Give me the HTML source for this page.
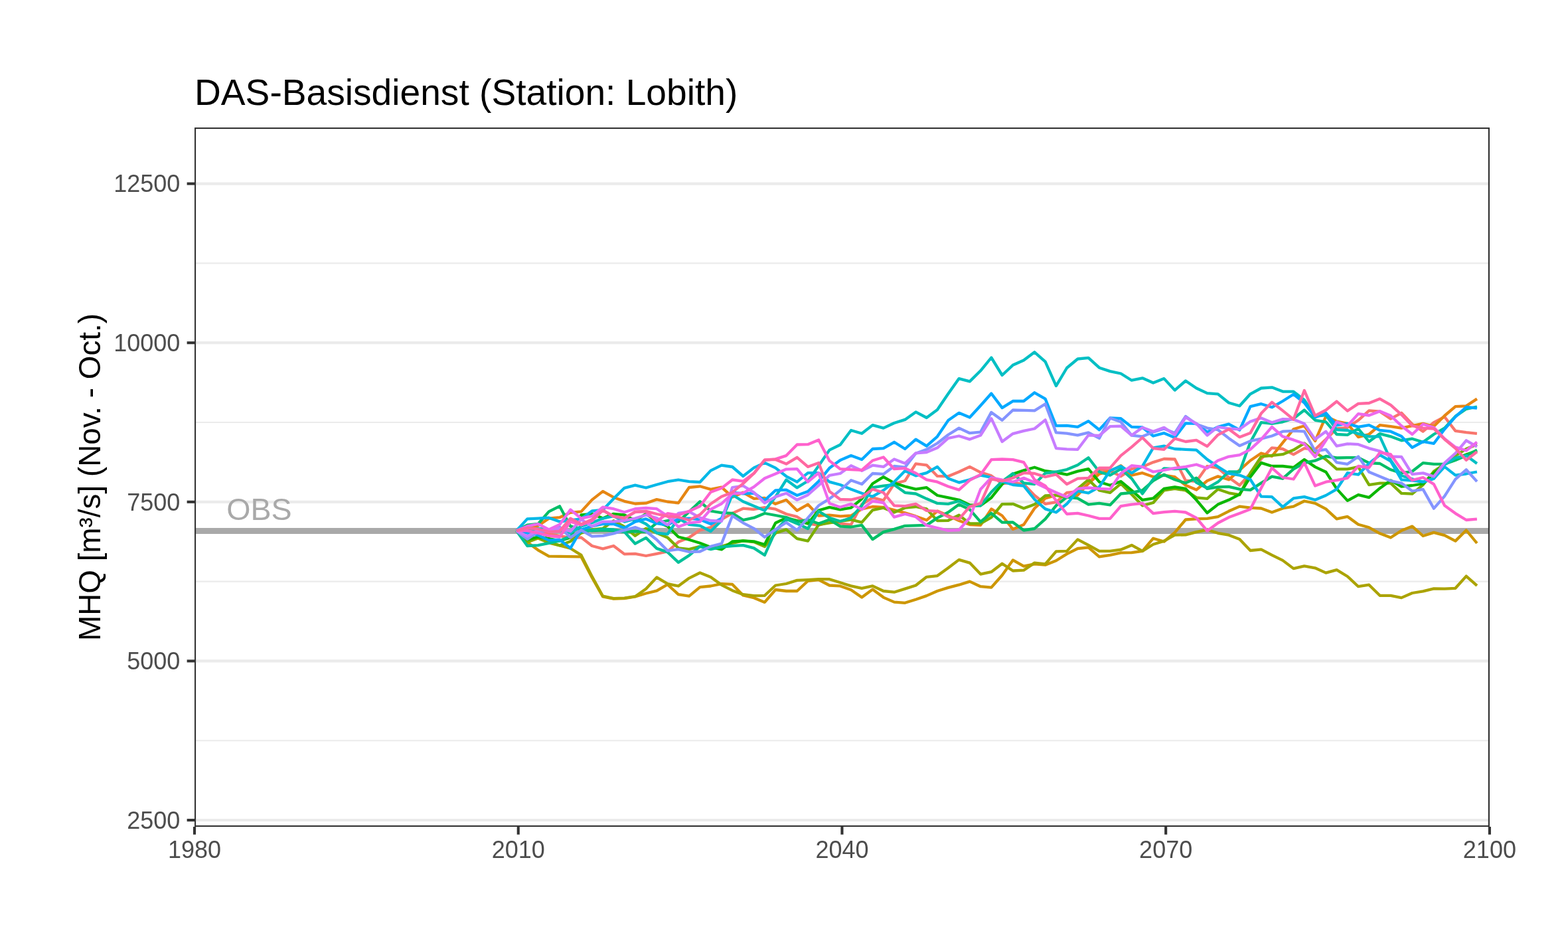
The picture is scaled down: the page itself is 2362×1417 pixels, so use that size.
<!DOCTYPE html>
<html lang="de"><head><meta charset="utf-8"><title>DAS-Basisdienst (Station: Lobith)</title>
<style>html,body{margin:0;padding:0;background:#fff}body{width:2362px;height:1417px;overflow:hidden}svg{display:block}text{font-family:"Liberation Sans",Arial,Helvetica,sans-serif}</style></head><body>
<svg width="2362" height="1417" viewBox="0 0 2362 1417">
<rect width="2362" height="1417" fill="#fff"/>
<defs><clipPath id="pc"><rect x="293.00" y="192.00" width="1950.90" height="1053.00"/></clipPath></defs>
<g clip-path="url(#pc)">
<g stroke="#EBEBEB" stroke-width="2.1" fill="none">
<line x1="293.0" x2="2243.9" y1="1115.20" y2="1115.20"/>
<line x1="293.0" x2="2243.9" y1="875.60" y2="875.60"/>
<line x1="293.0" x2="2243.9" y1="636.00" y2="636.00"/>
<line x1="293.0" x2="2243.9" y1="396.40" y2="396.40"/>
</g>
<g stroke="#EBEBEB" stroke-width="4.2" fill="none">
<line x1="293.0" x2="2243.9" y1="1235.00" y2="1235.00"/>
<line x1="293.0" x2="2243.9" y1="995.40" y2="995.40"/>
<line x1="293.0" x2="2243.9" y1="755.80" y2="755.80"/>
<line x1="293.0" x2="2243.9" y1="516.20" y2="516.20"/>
<line x1="293.0" x2="2243.9" y1="276.60" y2="276.60"/>
</g>
<line x1="293.0" x2="2243.9" y1="799.5" y2="799.5" stroke="#A9A9A9" stroke-width="8.8"/>
<g fill="none" stroke-width="4.30" stroke-linejoin="round" stroke-linecap="butt">
<polyline stroke="#F8766D" points="778.0,799.2 794.3,800.9 810.5,802.6 826.8,804.3 843.0,806.8 859.3,810.2 875.5,809.4 891.8,822.0 908.1,826.3 924.3,822.0 940.6,834.4 956.8,833.9 973.1,837.0 989.3,833.9 1005.6,830.5 1021.9,816.1 1038.1,809.4 1054.4,798.3 1070.6,794.1 1086.9,782.2 1103.2,772.9 1119.4,765.7 1135.7,767.0 1151.9,764.2 1168.2,766.7 1184.4,774.0 1200.7,778.2 1217.0,788.4 1233.2,790.9 1249.5,785.8 1265.7,788.4 1282.0,790.1 1298.2,759.6 1314.5,749.4 1330.8,753.7 1347.0,728.3 1363.3,724.0 1379.5,698.3 1395.8,700.3 1412.0,716.9 1428.3,717.3 1444.6,710.5 1460.8,702.9 1477.1,711.3 1493.3,716.4 1509.6,728.3 1525.8,726.6 1542.1,729.1 1558.4,746.0 1574.6,758.8 1590.9,756.2 1607.1,741.8 1623.4,740.1 1639.6,728.3 1655.9,707.1 1672.2,708.8 1688.4,717.3 1704.7,706.2 1720.9,702.9 1737.2,696.1 1753.5,691.0 1769.7,691.5 1786.0,723.7 1802.2,724.9 1818.5,702.0 1834.7,704.6 1851.0,719.0 1867.3,730.8 1883.5,713.0 1899.8,691.0 1916.0,674.3 1932.3,676.0 1948.5,684.4 1964.8,675.1 1981.1,676.8 1997.3,661.6 2013.6,645.5 2029.8,643.8 2046.1,632.8 2062.3,618.4 2078.6,619.7 2094.9,630.6 2111.1,621.8 2127.4,638.7 2143.6,649.7 2159.9,636.2 2176.1,627.7 2192.4,648.9 2208.7,651.1 2224.9,652.8"/>
<polyline stroke="#E68613" points="778.0,799.2 794.3,795.0 810.5,791.6 826.8,780.6 843.0,779.2 859.3,771.8 875.5,770.4 891.8,752.6 908.1,739.9 924.3,748.9 940.6,754.8 956.8,758.5 973.1,757.7 989.3,752.1 1005.6,755.5 1021.9,757.4 1038.1,734.0 1054.4,732.3 1070.6,736.9 1086.9,733.6 1103.2,748.4 1119.4,741.6 1135.7,750.9 1151.9,749.8 1168.2,758.8 1184.4,752.8 1200.7,768.9 1217.0,759.6 1233.2,776.5 1249.5,775.7 1265.7,777.4 1282.0,776.5 1298.2,766.4 1314.5,763.0 1330.8,763.8 1347.0,768.1 1363.3,772.3 1379.5,777.4 1395.8,783.3 1412.0,769.6 1428.3,776.4 1444.6,784.1 1460.8,790.1 1477.1,790.9 1493.3,766.4 1509.6,776.5 1525.8,796.9 1542.1,790.1 1558.4,765.5 1574.6,750.5 1590.9,745.8 1607.1,749.0 1623.4,745.6 1639.6,728.1 1655.9,713.7 1672.2,709.6 1688.4,701.2 1704.7,715.6 1720.9,712.2 1737.2,718.1 1753.5,715.6 1769.7,718.1 1786.0,730.8 1802.2,737.6 1818.5,724.0 1834.7,717.3 1851.0,722.3 1867.3,707.9 1883.5,693.5 1899.8,682.5 1916.0,687.0 1932.3,666.6 1948.5,646.3 1964.8,641.2 1981.1,664.1 1997.3,626.9 2013.6,634.5 2029.8,637.9 2046.1,658.2 2062.3,654.0 2078.6,640.1 2094.9,642.1 2111.1,644.6 2127.4,641.2 2143.6,637.9 2159.9,642.1 2176.1,626.0 2192.4,612.1 2208.7,611.3 2224.9,600.6"/>
<polyline stroke="#CD9600" points="778.0,799.5 794.3,816.4 810.5,828.3 826.8,837.6 843.0,837.9 859.3,838.1 875.5,838.4 891.8,869.8 908.1,898.5 924.3,901.6 940.6,901.1 956.8,898.5 973.1,893.5 989.3,889.7 1005.6,880.2 1021.9,895.2 1038.1,897.7 1054.4,884.1 1070.6,882.5 1086.9,879.1 1103.2,879.9 1119.4,896.5 1135.7,900.2 1151.9,906.9 1168.2,888.0 1184.4,890.0 1200.7,890.0 1217.0,874.8 1233.2,873.1 1249.5,881.5 1265.7,882.4 1282.0,888.3 1298.2,899.6 1314.5,887.5 1330.8,899.6 1347.0,906.6 1363.3,907.8 1379.5,902.7 1395.8,897.1 1412.0,890.0 1428.3,884.9 1444.6,880.7 1460.8,875.6 1477.1,883.2 1493.3,884.6 1509.6,866.3 1525.8,843.4 1542.1,852.7 1558.4,849.4 1574.6,850.7 1590.9,844.3 1607.1,834.1 1623.4,826.0 1639.6,824.3 1655.9,838.3 1672.2,835.8 1688.4,832.4 1704.7,832.1 1720.9,829.9 1737.2,810.7 1753.5,815.5 1769.7,801.9 1786.0,782.5 1802.2,781.3 1818.5,780.8 1834.7,778.2 1851.0,769.8 1867.3,762.6 1883.5,764.7 1899.8,765.5 1916.0,771.5 1932.3,765.5 1948.5,762.6 1964.8,754.5 1981.1,757.9 1997.3,766.4 2013.6,781.3 2029.8,777.9 2046.1,789.7 2062.3,794.3 2078.6,803.3 2094.9,809.5 2111.1,799.0 2127.4,792.6 2143.6,807.0 2159.9,801.9 2176.1,806.2 2192.4,814.6 2208.7,798.5 2224.9,818.0"/>
<polyline stroke="#ABA300" points="778.0,799.5 794.3,816.4 810.5,810.5 826.8,817.3 843.0,821.5 859.3,825.7 875.5,835.9 891.8,868.1 908.1,897.7 924.3,901.1 940.6,900.6 956.8,898.2 973.1,886.7 989.3,869.4 1005.6,879.1 1021.9,882.5 1038.1,870.6 1054.4,862.5 1070.6,868.9 1086.9,880.8 1103.2,889.2 1119.4,895.2 1135.7,897.2 1151.9,896.8 1168.2,881.5 1184.4,879.0 1200.7,873.9 1217.0,873.1 1233.2,872.2 1249.5,872.2 1265.7,877.3 1282.0,882.4 1298.2,885.8 1314.5,882.4 1330.8,890.0 1347.0,891.7 1363.3,886.6 1379.5,881.5 1395.8,868.8 1412.0,867.1 1428.3,855.3 1444.6,842.9 1460.8,847.6 1477.1,864.6 1493.3,861.2 1509.6,848.8 1525.8,859.5 1542.1,858.7 1558.4,847.6 1574.6,849.4 1590.9,830.4 1607.1,829.9 1623.4,812.4 1639.6,820.9 1655.9,829.9 1672.2,829.9 1688.4,827.7 1704.7,820.9 1720.9,829.9 1737.2,819.7 1753.5,814.6 1769.7,805.7 1786.0,805.3 1802.2,801.1 1818.5,797.7 1834.7,802.8 1851.0,805.7 1867.3,812.1 1883.5,829.0 1899.8,827.3 1916.0,835.8 1932.3,843.9 1948.5,856.1 1964.8,852.4 1981.1,855.3 1997.3,862.6 2013.6,858.1 2029.8,868.0 2046.1,883.2 2062.3,880.7 2078.6,896.8 2094.9,896.8 2111.1,900.1 2127.4,893.0 2143.6,890.3 2159.9,886.3 2176.1,886.6 2192.4,885.8 2208.7,867.6 2224.9,881.9"/>
<polyline stroke="#7CAE00" points="778.0,799.2 794.3,816.1 810.5,809.4 826.8,816.1 843.0,821.2 859.3,815.3 875.5,802.6 891.8,797.5 908.1,795.8 924.3,784.2 940.6,793.1 956.8,806.8 973.1,795.8 989.3,802.6 1005.6,809.4 1021.9,825.4 1038.1,827.1 1054.4,822.9 1070.6,824.6 1086.9,822.9 1103.2,817.8 1119.4,814.4 1135.7,816.1 1151.9,823.1 1168.2,802.8 1184.4,797.4 1200.7,811.2 1217.0,814.6 1233.2,790.1 1249.5,787.5 1265.7,785.0 1282.0,782.5 1298.2,786.7 1314.5,768.1 1330.8,764.7 1347.0,771.5 1363.3,764.7 1379.5,763.0 1395.8,766.4 1412.0,784.1 1428.3,783.8 1444.6,775.7 1460.8,788.4 1477.1,788.4 1493.3,779.1 1509.6,759.2 1525.8,758.8 1542.1,765.5 1558.4,759.6 1574.6,746.4 1590.9,745.7 1607.1,749.4 1623.4,735.9 1639.6,722.3 1655.9,738.4 1672.2,741.8 1688.4,728.3 1704.7,744.4 1720.9,761.3 1737.2,757.0 1753.5,738.4 1769.7,735.9 1786.0,738.4 1802.2,749.4 1818.5,750.8 1834.7,736.7 1851.0,742.3 1867.3,745.2 1883.5,712.2 1899.8,687.6 1916.0,685.9 1932.3,684.2 1948.5,677.6 1964.8,667.5 1981.1,681.0 1997.3,692.0 2013.6,706.4 2029.8,706.4 2046.1,703.1 2062.3,730.1 2078.6,727.6 2094.9,727.6 2111.1,742.9 2127.4,743.7 2143.6,730.1 2159.9,709.8 2176.1,698.8 2192.4,686.1 2208.7,676.0 2224.9,669.2"/>
<polyline stroke="#0CB702" points="778.0,799.2 794.3,812.7 810.5,808.5 826.8,811.0 843.0,814.4 859.3,809.4 875.5,775.5 891.8,773.8 908.1,780.6 924.3,773.8 940.6,775.5 956.8,784.0 973.1,773.8 989.3,785.6 1005.6,792.4 1021.9,808.5 1038.1,812.7 1054.4,817.8 1070.6,824.0 1086.9,827.4 1103.2,815.5 1119.4,814.4 1135.7,815.3 1151.9,820.0 1168.2,787.5 1184.4,779.9 1200.7,784.1 1217.0,788.4 1233.2,768.5 1249.5,763.9 1265.7,767.3 1282.0,764.7 1298.2,751.1 1314.5,728.3 1330.8,718.1 1347.0,727.4 1363.3,732.5 1379.5,736.7 1395.8,734.2 1412.0,746.0 1428.3,749.4 1444.6,752.8 1460.8,760.4 1477.1,761.3 1493.3,749.4 1509.6,729.1 1525.8,713.9 1542.1,708.4 1558.4,703.7 1574.6,709.2 1590.9,711.3 1607.1,714.7 1623.4,709.6 1639.6,706.2 1655.9,725.7 1672.2,730.8 1688.4,724.9 1704.7,738.4 1720.9,752.8 1737.2,750.3 1753.5,735.9 1769.7,733.3 1786.0,735.9 1802.2,752.8 1818.5,772.3 1834.7,759.6 1851.0,752.8 1867.3,744.4 1883.5,718.1 1899.8,696.9 1916.0,702.0 1932.3,702.0 1948.5,703.9 1964.8,692.0 1981.1,703.1 1997.3,710.7 2013.6,736.1 2029.8,753.9 2046.1,745.1 2062.3,749.1 2078.6,735.2 2094.9,723.4 2111.1,732.7 2127.4,731.0 2143.6,728.5 2159.9,712.4 2176.1,699.3 2192.4,690.4 2208.7,684.5 2224.9,678.7"/>
<polyline stroke="#00BE67" points="778.0,799.2 794.3,790.7 810.5,789.0 826.8,770.4 843.0,762.3 859.3,792.4 875.5,797.5 891.8,799.2 908.1,798.3 924.3,799.2 940.6,800.9 956.8,800.0 973.1,800.9 989.3,787.3 1005.6,784.0 1021.9,785.6 1038.1,770.6 1054.4,755.2 1070.6,769.5 1086.9,772.1 1103.2,772.9 1119.4,783.1 1135.7,779.7 1151.9,773.0 1168.2,776.0 1184.4,779.1 1200.7,785.8 1217.0,782.5 1233.2,788.4 1249.5,782.5 1265.7,792.6 1282.0,793.5 1298.2,790.9 1314.5,812.1 1330.8,801.1 1347.0,796.9 1363.3,791.8 1379.5,791.3 1395.8,790.9 1412.0,779.9 1428.3,771.5 1444.6,759.6 1460.8,767.2 1477.1,785.8 1493.3,772.8 1509.6,786.7 1525.8,786.4 1542.1,798.5 1558.4,796.0 1574.6,781.6 1590.9,761.3 1607.1,748.6 1623.4,750.3 1639.6,759.6 1655.9,757.9 1672.2,760.4 1688.4,743.5 1704.7,741.8 1720.9,738.4 1737.2,724.0 1753.5,714.7 1769.7,722.3 1786.0,727.4 1802.2,719.8 1818.5,735.9 1834.7,733.3 1851.0,732.8 1867.3,736.7 1883.5,737.9 1899.8,727.4 1916.0,717.6 1932.3,720.6 1948.5,706.4 1964.8,697.1 1981.1,693.7 1997.3,687.0 2013.6,689.5 2029.8,689.2 2046.1,689.2 2062.3,697.1 2078.6,698.0 2094.9,707.3 2111.1,712.4 2127.4,709.8 2143.6,697.1 2159.9,698.8 2176.1,698.8 2192.4,692.9 2208.7,686.1 2224.9,677.6"/>
<polyline stroke="#00C19A" points="778.0,799.2 794.3,822.0 810.5,821.2 826.8,817.8 843.0,814.4 859.3,807.6 875.5,800.9 891.8,798.3 908.1,796.6 924.3,797.5 940.6,800.9 956.8,818.7 973.1,809.9 989.3,825.9 1005.6,831.4 1021.9,846.9 1038.1,836.4 1054.4,822.9 1070.6,827.1 1086.9,823.7 1103.2,822.0 1119.4,821.2 1135.7,825.4 1151.9,836.0 1168.2,799.4 1184.4,781.6 1200.7,788.4 1217.0,796.0 1233.2,769.8 1249.5,779.9 1265.7,785.0 1282.0,779.9 1298.2,761.3 1314.5,734.2 1330.8,731.6 1347.0,730.0 1363.3,741.8 1379.5,743.5 1395.8,751.1 1412.0,757.9 1428.3,758.8 1444.6,754.5 1460.8,762.1 1477.1,761.3 1493.3,741.0 1509.6,724.9 1525.8,713.0 1542.1,727.4 1558.4,729.1 1574.6,712.5 1590.9,710.5 1607.1,707.1 1623.4,700.3 1639.6,689.3 1655.9,710.5 1672.2,715.6 1688.4,706.2 1704.7,720.6 1720.9,743.5 1737.2,721.5 1753.5,705.4 1769.7,706.2 1786.0,705.4 1802.2,726.6 1818.5,735.0 1834.7,725.7 1851.0,710.5 1867.3,710.5 1883.5,665.8 1899.8,636.2 1916.0,637.9 1932.3,635.3 1948.5,630.2 1964.8,617.5 1981.1,632.8 1997.3,635.3 2013.6,654.0 2029.8,654.8 2046.1,645.5 2062.3,665.0 2078.6,653.1 2094.9,657.3 2111.1,663.3 2127.4,660.7 2143.6,665.8 2159.9,654.0 2176.1,644.6 2192.4,626.9 2208.7,615.8 2224.9,612.5"/>
<polyline stroke="#00BFC4" points="778.0,799.2 794.3,797.5 810.5,795.8 826.8,797.5 843.0,799.2 859.3,802.6 875.5,792.4 891.8,787.3 908.1,780.6 924.3,777.2 940.6,785.6 956.8,781.4 973.1,789.0 989.3,802.6 1005.6,804.3 1021.9,780.6 1038.1,789.9 1054.4,791.6 1070.6,800.0 1086.9,784.0 1103.2,745.0 1119.4,755.2 1135.7,761.9 1151.9,768.9 1168.2,748.1 1184.4,722.5 1200.7,734.4 1217.0,724.2 1233.2,701.4 1249.5,677.6 1265.7,669.7 1282.0,648.0 1298.2,652.8 1314.5,640.1 1330.8,644.6 1347.0,637.0 1363.3,631.9 1379.5,620.4 1395.8,629.0 1412.0,617.0 1428.3,593.0 1444.6,570.1 1460.8,574.4 1477.1,558.3 1493.3,538.5 1509.6,565.0 1525.8,549.8 1542.1,542.5 1558.4,530.3 1574.6,544.7 1590.9,581.1 1607.1,554.0 1623.4,540.5 1639.6,538.8 1655.9,553.7 1672.2,559.1 1688.4,562.5 1704.7,572.7 1720.9,569.3 1737.2,576.5 1753.5,570.1 1769.7,587.6 1786.0,573.5 1802.2,584.5 1818.5,592.1 1834.7,593.3 1851.0,606.5 1867.3,611.3 1883.5,593.3 1899.8,584.5 1916.0,583.3 1932.3,589.6 1948.5,589.6 1964.8,602.3 1981.1,626.9 1997.3,625.2 2013.6,647.2 2029.8,648.0 2046.1,653.1 2062.3,657.3 2078.6,657.3 2094.9,692.9 2111.1,716.2 2127.4,721.3 2143.6,725.9 2159.9,720.8 2176.1,699.7 2192.4,689.5 2208.7,686.1 2224.9,698.0"/>
<polyline stroke="#00B8E7" points="778.0,799.2 794.3,781.4 810.5,780.6 826.8,779.7 843.0,785.6 859.3,783.4 875.5,781.3 891.8,769.5 908.1,767.9 924.3,750.9 940.6,734.8 956.8,730.6 973.1,734.5 989.3,729.8 1005.6,725.2 1021.9,722.5 1038.1,725.2 1054.4,726.0 1070.6,708.6 1086.9,700.6 1103.2,703.0 1119.4,717.0 1135.7,704.4 1151.9,696.9 1168.2,704.6 1184.4,717.3 1200.7,725.7 1217.0,712.2 1233.2,712.2 1249.5,725.7 1265.7,730.0 1282.0,736.7 1298.2,742.7 1314.5,747.7 1330.8,738.4 1347.0,725.7 1363.3,709.1 1379.5,716.4 1395.8,712.2 1412.0,702.9 1428.3,720.6 1444.6,726.6 1460.8,722.3 1477.1,715.6 1493.3,719.0 1509.6,724.9 1525.8,730.0 1542.1,731.6 1558.4,752.0 1574.6,766.4 1590.9,771.5 1607.1,758.8 1623.4,739.3 1639.6,742.3 1655.9,733.3 1672.2,708.8 1688.4,702.0 1704.7,712.2 1720.9,702.0 1737.2,674.3 1753.5,671.7 1769.7,676.0 1786.0,676.8 1802.2,677.6 1818.5,691.9 1834.7,702.9 1851.0,713.0 1867.3,715.6 1883.5,722.0 1899.8,747.7 1916.0,748.2 1932.3,763.4 1948.5,750.3 1964.8,748.1 1981.1,752.8 1997.3,746.0 2013.6,736.7 2029.8,712.2 2046.1,714.7 2062.3,697.8 2078.6,685.1 2094.9,694.4 2111.1,722.3 2127.4,723.7 2143.6,725.7 2159.9,720.6 2176.1,702.9 2192.4,715.6 2208.7,713.5 2224.9,710.5"/>
<polyline stroke="#00A9FF" points="778.0,799.2 794.3,802.6 810.5,806.0 826.8,813.6 843.0,812.7 859.3,825.4 875.5,797.5 891.8,792.4 908.1,789.0 924.3,789.0 940.6,795.0 956.8,785.6 973.1,781.4 989.3,788.2 1005.6,790.7 1021.9,781.4 1038.1,780.6 1054.4,782.2 1070.6,789.0 1086.9,780.6 1103.2,741.6 1119.4,743.3 1135.7,742.5 1151.9,753.5 1168.2,738.4 1184.4,737.6 1200.7,746.0 1217.0,740.1 1233.2,724.9 1249.5,704.8 1265.7,692.9 1282.0,686.1 1298.2,692.0 1314.5,676.0 1330.8,675.1 1347.0,665.8 1363.3,676.0 1379.5,661.6 1395.8,671.7 1412.0,657.3 1428.3,633.1 1444.6,621.8 1460.8,628.5 1477.1,610.8 1493.3,592.5 1509.6,614.1 1525.8,604.0 1542.1,604.0 1558.4,591.3 1574.6,600.6 1590.9,641.2 1607.1,640.9 1623.4,642.9 1639.6,634.1 1655.9,647.2 1672.2,629.4 1688.4,630.2 1704.7,642.9 1720.9,643.5 1737.2,656.5 1753.5,652.2 1769.7,659.0 1786.0,637.4 1802.2,637.9 1818.5,650.6 1834.7,642.9 1851.0,638.7 1867.3,647.5 1883.5,612.1 1899.8,608.2 1916.0,613.3 1932.3,604.0 1948.5,593.8 1964.8,606.5 1981.1,628.5 1997.3,621.8 2013.6,640.4 2029.8,637.9 2046.1,642.9 2062.3,640.1 2078.6,648.0 2094.9,649.7 2111.1,657.0 2127.4,673.9 2143.6,665.0 2159.9,667.8 2176.1,646.3 2192.4,627.7 2208.7,613.0 2224.9,614.7"/>
<polyline stroke="#8494FF" points="778.0,799.2 794.3,811.9 810.5,800.9 826.8,798.9 843.0,793.5 859.3,809.4 875.5,798.3 891.8,807.6 908.1,806.8 924.3,803.4 940.6,798.3 956.8,794.1 973.1,800.0 989.3,812.7 1005.6,829.3 1021.9,827.1 1038.1,831.0 1054.4,830.5 1070.6,822.9 1086.9,818.7 1103.2,776.8 1119.4,787.3 1135.7,795.8 1151.9,808.7 1168.2,797.2 1184.4,786.7 1200.7,798.5 1217.0,779.9 1233.2,761.3 1249.5,751.1 1265.7,738.4 1282.0,723.2 1298.2,729.1 1314.5,713.0 1330.8,713.9 1347.0,702.0 1363.3,703.7 1379.5,682.7 1395.8,676.8 1412.0,667.5 1428.3,654.8 1444.6,644.6 1460.8,652.2 1477.1,650.6 1493.3,620.9 1509.6,632.8 1525.8,617.5 1542.1,617.9 1558.4,618.4 1574.6,608.2 1590.9,651.4 1607.1,652.6 1623.4,655.3 1639.6,651.4 1655.9,659.9 1672.2,629.4 1688.4,635.3 1704.7,655.6 1720.9,657.3 1737.2,650.6 1753.5,645.5 1769.7,652.2 1786.0,626.9 1802.2,638.7 1818.5,644.6 1834.7,647.2 1851.0,659.9 1867.3,671.2 1883.5,664.1 1899.8,660.7 1916.0,656.5 1932.3,649.7 1948.5,648.9 1964.8,649.7 1981.1,679.4 1997.3,676.8 2013.6,696.3 2029.8,698.8 2046.1,687.5 2062.3,710.7 2078.6,717.5 2094.9,724.2 2111.1,727.6 2127.4,739.5 2143.6,736.9 2159.9,765.7 2176.1,747.1 2192.4,721.7 2208.7,707.3 2224.9,725.1"/>
<polyline stroke="#C77CFF" points="778.0,799.2 794.3,807.6 810.5,798.3 826.8,797.6 843.0,795.5 859.3,800.0 875.5,782.2 891.8,792.4 908.1,785.6 924.3,785.3 940.6,784.0 956.8,780.6 973.1,775.5 989.3,780.0 1005.6,790.5 1021.9,772.9 1038.1,770.4 1054.4,779.7 1070.6,784.0 1086.9,784.8 1103.2,734.0 1119.4,731.5 1135.7,741.6 1151.9,757.4 1168.2,748.1 1184.4,742.7 1200.7,752.8 1217.0,745.2 1233.2,730.8 1249.5,715.9 1265.7,713.0 1282.0,701.2 1298.2,708.8 1314.5,700.7 1330.8,702.9 1347.0,691.5 1363.3,697.8 1379.5,682.4 1395.8,681.0 1412.0,674.3 1428.3,659.9 1444.6,656.5 1460.8,661.6 1477.1,655.6 1493.3,630.2 1509.6,665.0 1525.8,653.1 1542.1,648.9 1558.4,645.5 1574.6,632.3 1590.9,675.1 1607.1,676.3 1623.4,676.8 1639.6,655.3 1655.9,656.0 1672.2,642.1 1688.4,641.6 1704.7,655.6 1720.9,643.8 1737.2,649.7 1753.5,643.8 1769.7,654.8 1786.0,628.5 1802.2,637.9 1818.5,655.6 1834.7,642.9 1851.0,645.5 1867.3,646.3 1883.5,634.8 1899.8,629.4 1916.0,636.2 1932.3,631.1 1948.5,631.6 1964.8,637.9 1981.1,661.6 1997.3,649.7 2013.6,671.7 2029.8,668.3 2046.1,669.2 2062.3,675.1 2078.6,679.4 2094.9,687.5 2111.1,687.8 2127.4,714.1 2143.6,712.4 2159.9,717.5 2176.1,697.1 2192.4,682.7 2208.7,663.3 2224.9,672.6"/>
<polyline stroke="#ED68ED" points="778.0,799.2 794.3,792.4 810.5,789.0 826.8,797.5 843.0,789.9 859.3,767.5 875.5,780.6 891.8,777.2 908.1,763.6 924.3,766.2 940.6,771.2 956.8,766.2 973.1,765.0 989.3,766.2 1005.6,777.2 1021.9,793.3 1038.1,787.3 1054.4,785.6 1070.6,767.0 1086.9,758.5 1103.2,743.3 1119.4,742.5 1135.7,733.1 1151.9,720.3 1168.2,713.4 1184.4,706.6 1200.7,706.2 1217.0,725.7 1233.2,712.2 1249.5,757.9 1265.7,763.8 1282.0,758.8 1298.2,767.2 1314.5,754.5 1330.8,757.0 1347.0,778.6 1363.3,774.0 1379.5,778.2 1395.8,791.2 1412.0,795.0 1428.3,798.8 1444.6,798.0 1460.8,779.8 1477.1,736.7 1493.3,719.3 1509.6,722.7 1525.8,725.7 1542.1,719.8 1558.4,726.6 1574.6,734.2 1590.9,741.8 1607.1,748.6 1623.4,735.9 1639.6,734.5 1655.9,735.9 1672.2,736.7 1688.4,713.0 1704.7,701.2 1720.9,702.9 1737.2,710.5 1753.5,707.9 1769.7,704.9 1786.0,702.9 1802.2,699.5 1818.5,705.1 1834.7,693.5 1851.0,687.6 1867.3,685.1 1883.5,676.8 1899.8,661.6 1916.0,642.9 1932.3,657.3 1948.5,662.4 1964.8,668.3 1981.1,687.8 1997.3,663.3 2013.6,635.3 2029.8,641.2 2046.1,623.1 2062.3,625.5 2078.6,619.2 2094.9,626.0 2111.1,641.2 2127.4,654.0 2143.6,638.7 2159.9,643.8 2176.1,660.7 2192.4,673.4 2208.7,678.5 2224.9,665.8"/>
<polyline stroke="#FF61CC" points="778.0,799.2 794.3,799.2 810.5,802.6 826.8,806.8 843.0,808.5 859.3,785.4 875.5,790.5 891.8,784.4 908.1,768.1 924.3,777.8 940.6,780.4 956.8,771.1 973.1,770.2 989.3,785.0 1005.6,773.2 1021.9,775.7 1038.1,769.8 1054.4,762.2 1070.6,741.0 1086.9,735.1 1103.2,722.5 1119.4,724.7 1135.7,712.8 1151.9,692.7 1168.2,691.4 1184.4,686.1 1200.7,669.5 1217.0,669.2 1233.2,662.4 1249.5,693.9 1265.7,706.2 1282.0,707.1 1298.2,707.9 1314.5,693.5 1330.8,688.5 1347.0,706.2 1363.3,705.1 1379.5,712.5 1395.8,722.3 1412.0,725.7 1428.3,732.5 1444.6,737.6 1460.8,723.2 1477.1,714.7 1493.3,692.2 1509.6,691.5 1525.8,692.2 1542.1,696.1 1558.4,722.3 1574.6,731.6 1590.9,753.7 1607.1,774.0 1623.4,772.8 1639.6,776.5 1655.9,780.8 1672.2,780.8 1688.4,762.1 1704.7,759.6 1720.9,757.9 1737.2,773.1 1753.5,771.1 1769.7,769.8 1786.0,771.5 1802.2,779.9 1818.5,799.4 1834.7,787.5 1851.0,779.1 1867.3,773.1 1883.5,766.7 1899.8,735.0 1916.0,704.6 1932.3,719.0 1948.5,721.5 1964.8,696.9 1981.1,731.6 1997.3,725.7 2013.6,723.2 2029.8,719.8 2046.1,702.0 2062.3,704.0 2078.6,681.4 2094.9,684.2 2111.1,707.1 2127.4,723.2 2143.6,719.0 2159.9,729.1 2176.1,761.3 2192.4,773.1 2208.7,783.0 2224.9,781.6"/>
<polyline stroke="#FF68A1" points="778.0,799.2 794.3,795.0 810.5,796.6 826.8,800.9 843.0,800.0 859.3,780.6 875.5,789.4 891.8,782.2 908.1,768.7 924.3,777.4 940.6,780.0 956.8,770.6 973.1,769.8 989.3,774.0 1005.6,777.4 1021.9,778.7 1038.1,783.3 1054.4,774.9 1070.6,758.8 1086.9,747.8 1103.2,741.4 1119.4,728.1 1135.7,712.8 1151.9,692.7 1168.2,691.9 1184.4,698.6 1200.7,688.8 1217.0,702.9 1233.2,696.9 1249.5,740.1 1265.7,752.0 1282.0,752.5 1298.2,748.6 1314.5,736.7 1330.8,741.8 1347.0,761.3 1363.3,762.1 1379.5,758.8 1395.8,768.9 1412.0,769.8 1428.3,778.2 1444.6,781.6 1460.8,763.0 1477.1,757.9 1493.3,721.5 1509.6,724.4 1525.8,719.8 1542.1,712.2 1558.4,713.0 1574.6,718.1 1590.9,714.4 1607.1,729.1 1623.4,720.6 1639.6,719.8 1655.9,704.6 1672.2,704.6 1688.4,686.1 1704.7,673.1 1720.9,659.0 1737.2,675.1 1753.5,676.8 1769.7,660.4 1786.0,665.0 1802.2,662.8 1818.5,672.1 1834.7,654.8 1851.0,646.3 1867.3,658.2 1883.5,651.9 1899.8,622.6 1916.0,605.7 1932.3,618.4 1948.5,631.6 1964.8,587.9 1981.1,626.0 1997.3,617.5 2013.6,604.5 2029.8,618.7 2046.1,607.9 2062.3,607.0 2078.6,600.6 2094.9,609.9 2111.1,624.3 2127.4,641.2 2143.6,644.6 2159.9,645.5 2176.1,661.6 2192.4,675.1 2208.7,692.9 2224.9,680.2"/>
</g>
<text x="390.4" y="782.7" font-size="46.6" fill="#A9A9A9" text-anchor="middle">OBS</text>
<rect x="293.00" y="192.00" width="1950.90" height="1053.00" fill="none" stroke="#333333" stroke-width="4.2"/>
</g>
<g stroke="#333333" stroke-width="4.1" fill="none">
<line x1="281.6" x2="293.0" y1="1235.00" y2="1235.00"/>
<line x1="281.6" x2="293.0" y1="995.40" y2="995.40"/>
<line x1="281.6" x2="293.0" y1="755.80" y2="755.80"/>
<line x1="281.6" x2="293.0" y1="516.20" y2="516.20"/>
<line x1="281.6" x2="293.0" y1="276.60" y2="276.60"/>
<line x1="293.00" x2="293.00" y1="1245.0" y2="1256.7"/>
<line x1="780.73" x2="780.73" y1="1245.0" y2="1256.7"/>
<line x1="1268.45" x2="1268.45" y1="1245.0" y2="1256.7"/>
<line x1="1756.17" x2="1756.17" y1="1245.0" y2="1256.7"/>
<line x1="2243.90" x2="2243.90" y1="1245.0" y2="1256.7"/>
</g>
<g font-size="36.00" fill="#4D4D4D">
<text x="271.4" y="1247.70" text-anchor="end">2500</text>
<text x="271.4" y="1008.10" text-anchor="end">5000</text>
<text x="271.4" y="768.50" text-anchor="end">7500</text>
<text x="271.4" y="528.90" text-anchor="end">10000</text>
<text x="271.4" y="289.30" text-anchor="end">12500</text>
<text x="293.00" y="1291.6" text-anchor="middle">1980</text>
<text x="780.73" y="1291.6" text-anchor="middle">2010</text>
<text x="1268.45" y="1291.6" text-anchor="middle">2040</text>
<text x="1756.17" y="1291.6" text-anchor="middle">2070</text>
<text x="2243.90" y="1291.6" text-anchor="middle">2100</text>
</g>
<text transform="translate(151,718.5) rotate(-90)" font-size="45.83" fill="#000" text-anchor="middle">MHQ [m³/s] (Nov. - Oct.)</text>
<text x="293.0" y="158.3" font-size="55.15" fill="#000">DAS-Basisdienst (Station: Lobith)</text>
</svg></body></html>
